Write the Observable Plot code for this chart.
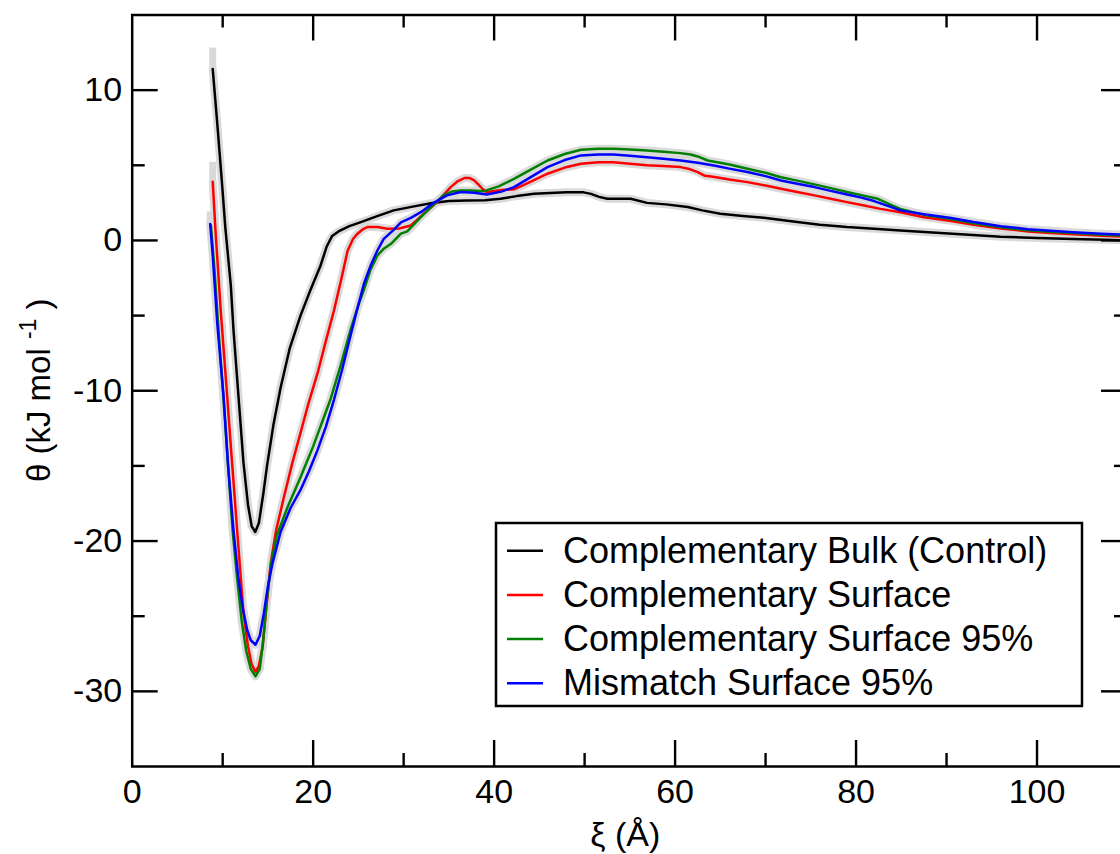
<!DOCTYPE html>
<html>
<head>
<meta charset="utf-8">
<script src="https://cdn.jsdelivr.net/npm/d3@7"></script>
<script src="https://cdn.jsdelivr.net/npm/@observablehq/plot@0.6"></script>
<style>
  html, body { margin: 0; padding: 0; background: white; overflow: hidden; }
  #wrap { width: 1120px; height: 854px; overflow: hidden; }
  #wrap svg { max-width: none !important; }
</style>
</head>
<body>
<div id="wrap"></div>
<script>
// ---------------- data ----------------
const seriesNames = [
  "Complementary Bulk (Control)",
  "Complementary Surface",
  "Complementary Surface 95%",
  "Mismatch Surface 95%"
];
const seriesColors = ["#000000", "#ff0000", "#008000", "#0000ff"];

const bulk = [[8.9,11.4],[9.4,7.8],[9.9,4.0],[10.3,0.8],[10.9,-3.0],[11.2,-6.0],[11.8,-10.8],[12.3,-14.8],[12.8,-17.6],[13.2,-19.0],[13.6,-19.4],[14.0,-18.8],[14.5,-16.8],[14.9,-15.0],[15.6,-12.3],[16.4,-9.8],[17.4,-7.2],[18.6,-5.0],[19.7,-3.3],[20.8,-1.7],[21.5,-0.4],[22.1,0.3],[22.8,0.6],[24,0.95],[25.2,1.2],[27,1.6],[28.9,2.0],[31,2.25],[33,2.48],[35,2.62],[37,2.66],[39,2.68],[40.7,2.77],[42.5,2.95],[44.4,3.1],[46.2,3.15],[48,3.2],[49.9,3.2],[50.7,3.1],[51.6,2.9],[52.5,2.77],[55.1,2.77],[56.9,2.5],[59,2.4],[61.4,2.22],[63,2.0],[65,1.77],[67.5,1.62],[69.8,1.51],[73.5,1.22],[76,1.05],[79,0.89],[82,0.78],[84.9,0.67],[88,0.55],[92,0.4],[96,0.25],[100,0.17],[104,0.1],[107.5,0.05],[110,0.0]];

const surface = [[8.9,3.9],[9.2,0.7],[9.8,-4.8],[10.5,-10.4],[11.0,-14.5],[11.6,-19.3],[12.3,-24.8],[12.8,-27.0],[13.2,-28.2],[13.63,-28.7],[14.0,-28.3],[14.4,-27.1],[14.8,-24.6],[15.3,-21.5],[15.9,-19.3],[16.8,-17.0],[17.7,-14.8],[18.6,-12.8],[19.5,-10.8],[20.5,-8.8],[21.4,-6.7],[22.3,-4.66],[23.1,-2.6],[23.8,-0.7],[24.4,0.1],[24.9,0.45],[25.5,0.75],[26.0,0.89],[27.1,0.89],[28.2,0.78],[29.5,0.8],[30.8,1.0],[32.2,1.77],[33.7,2.55],[35.2,3.55],[36.0,3.95],[36.7,4.15],[37.3,4.15],[37.8,4.0],[38.3,3.7],[38.7,3.44],[39.2,3.2],[39.6,3.25],[40.8,3.35],[42.2,3.4],[44,3.9],[45.9,4.44],[47.8,4.85],[49.6,5.1],[51.5,5.2],[53.2,5.2],[55,5.1],[56.9,5.0],[58.7,4.95],[60.6,4.88],[61.6,4.75],[62.5,4.55],[63.3,4.3],[64.0,4.26],[66,4.05],[68,3.88],[70,3.65],[71.7,3.44],[73.5,3.22],[75.4,3.0],[77.2,2.78],[79,2.55],[80.9,2.32],[82.7,2.1],[84.9,1.88],[87.5,1.55],[90.5,1.3],[93,1.05],[96,0.8],[99,0.6],[101.5,0.5],[104,0.42],[107.1,0.32],[110,0.25]];

const surface95 = [[8.7,1.0],[9.1,-2.0],[9.6,-6.5],[10.1,-10.6],[10.6,-15.0],[11.1,-19.3],[11.6,-22.5],[12.1,-25.3],[12.6,-27.3],[13.1,-28.5],[13.63,-29.0],[14.1,-28.5],[14.5,-26.5],[14.9,-23.8],[15.4,-21.3],[16.0,-19.6],[17.2,-17.7],[18.5,-15.9],[20,-13.7],[21.9,-10.6],[23.0,-8.4],[24.2,-5.8],[25.0,-4.3],[25.6,-3.3],[26.3,-2.0],[27.1,-1.0],[27.8,-0.55],[28.6,-0.22],[29.7,0.45],[30.4,0.6],[31.9,1.55],[33.0,2.2],[34.4,3.0],[35.3,3.25],[36.3,3.33],[37.5,3.32],[38.9,3.28],[40.5,3.6],[42.2,4.1],[44,4.7],[45.9,5.32],[47.8,5.75],[49.6,6.03],[51.5,6.1],[53.2,6.1],[55,6.05],[56.9,5.99],[58.7,5.9],[60.6,5.81],[61.7,5.72],[62.5,5.59],[63.6,5.32],[66,5.05],[68,4.77],[70,4.5],[71.7,4.21],[73.5,3.98],[75.4,3.73],[77.2,3.48],[79,3.22],[80.7,3.0],[82.4,2.77],[83.2,2.55],[84.1,2.3],[84.9,2.1],[87.5,1.7],[90.5,1.42],[93,1.15],[96,0.88],[99,0.68],[101.5,0.58],[104,0.5],[107.1,0.38],[110,0.3]];

const mismatch95 = [[8.62,1.1],[8.9,-1.0],[9.4,-5.5],[10.1,-10.4],[10.6,-15.0],[11.2,-19.3],[11.7,-22.3],[12.2,-24.4],[12.7,-25.9],[13.1,-26.6],[13.63,-26.9],[14.1,-26.3],[14.55,-24.8],[15.0,-23.0],[15.5,-21.5],[16.4,-19.4],[17.5,-17.8],[18.6,-16.6],[19.5,-15.4],[20.45,-14.0],[21.4,-12.4],[22.3,-10.6],[23.2,-8.6],[24.1,-6.4],[24.9,-4.5],[25.6,-2.9],[26.4,-1.6],[27.1,-0.67],[27.8,0.1],[28.9,0.7],[29.7,1.2],[30.8,1.5],[31.9,1.88],[33.3,2.5],[34.8,3.0],[36.3,3.22],[37.8,3.18],[39.2,3.06],[40.8,3.25],[42.2,3.55],[44,4.2],[45.9,4.88],[47.8,5.35],[49.6,5.66],[51.5,5.72],[53.2,5.72],[55,5.63],[56.9,5.54],[58.7,5.44],[60.6,5.32],[62.5,5.17],[64.3,4.99],[66,4.78],[68,4.55],[70,4.28],[71.7,3.99],[73.5,3.77],[75.4,3.55],[77.2,3.3],[79,3.06],[80.6,2.85],[82,2.62],[83.5,2.3],[84.9,2.0],[87.5,1.75],[90.5,1.5],[93,1.23],[96,0.95],[99,0.75],[101.5,0.65],[104,0.55],[107.1,0.45],[110,0.38]];

// error at the first point of each series (grey bar above start)
const startErr = [1.4, 1.3, 0.8, 0.8];

const xLabelTicks = [0, 20, 40, 60, 80, 100];
const xMinorTicks = [10, 30, 50, 70, 90];
const xMajorTickMarks = [20, 40, 60, 80, 100];
const yLabelTicks = [-30, -20, -10, 0, 10];
const yMinorTicks = [-25, -15, -5, 5];

const xDomain = [0, 110];
const yDomain = [-35, 15];

const xLabel = "ξ (Å)";
const yLabelMain = "θ (kJ mol ";
const yLabelSup = "-1";
const yLabelEnd = ")";

// ---------------- build ----------------
const allSeries = [bulk, surface, surface95, mismatch95];
const rows = [];
allSeries.forEach((pts, i) => pts.forEach(([x, y]) => rows.push({x, y, s: seriesNames[i]})));
const starts = allSeries.map((pts, i) => ({x: pts[0][0], y1: pts[0][1], y2: pts[0][1] + startErr[i], s: seriesNames[i]}));

const W = 1130, H = 854;
const mL = 131.7, mR = 3, mT = 14.5, mB = 88;
const fw = W - mL - mR, fh = H - mT - mB;
const major = 26, minor = 13;
const tickStyle = {stroke: "black", strokeWidth: 2.4};

const marks = [
  Plot.axisX(xLabelTicks, {tickSize: 0, tickPadding: 12, tickFormat: d => String(d), label: null, fontSize: 34}),
  Plot.axisY(yLabelTicks, {tickSize: 0, tickPadding: 10, tickFormat: d => String(d), label: null, fontSize: 34}),
  // grey uncertainty bands
  Plot.ruleX(starts, {x: "x", y1: "y1", y2: "y2", stroke: "#d9d9d9", strokeWidth: 7}),
  Plot.line(rows, {x: "x", y: "y", z: "s", stroke: "#dadada", strokeWidth: 8, strokeLinejoin: "round", curve: "linear"}),
];
seriesNames.forEach((name, i) => {
  marks.push(Plot.line(rows.filter(r => r.s === name), {x: "x", y: "y", stroke: seriesColors[i], strokeWidth: 2.5, strokeLinejoin: "round"}));
});
// inward ticks on all four sides
marks.push(
  Plot.ruleX(xMajorTickMarks, {...tickStyle, insetTop: fh - major}),
  Plot.ruleX(xMinorTicks, {...tickStyle, insetTop: fh - minor}),
  Plot.ruleX(xMajorTickMarks, {...tickStyle, insetBottom: fh - major}),
  Plot.ruleX(xMinorTicks, {...tickStyle, insetBottom: fh - minor}),
  Plot.ruleY(yLabelTicks, {...tickStyle, insetRight: fw - major}),
  Plot.ruleY(yMinorTicks, {...tickStyle, insetRight: fw - minor}),
  Plot.ruleY(yLabelTicks, {...tickStyle, insetLeft: fw - major}),
  Plot.ruleY(yMinorTicks, {...tickStyle, insetLeft: fw - minor}),
  Plot.frame({stroke: "black", strokeWidth: 2.5})
);

const svg = Plot.plot({
  width: W, height: H,
  marginLeft: mL, marginRight: mR, marginTop: mT, marginBottom: mB,
  x: {domain: xDomain, label: null},
  y: {domain: yDomain, label: null},
  style: {fontFamily: "'Liberation Sans', Arial, sans-serif", fontSize: "34px", color: "black", background: "white", maxWidth: "none"},
  marks
});
svg.style.maxWidth = "none";
svg.setAttribute("width", W);

const s = d3.select(svg);
// axis titles
s.append("text")
  .attr("x", mL + fw / 2 - 4).attr("y", 846)
  .attr("text-anchor", "middle")
  .attr("font-size", 34).attr("fill", "black")
  .text(xLabel);
const yl = s.append("text")
  .attr("transform", `translate(50,${mT + fh / 2}) rotate(-90)`)
  .attr("text-anchor", "middle")
  .attr("font-size", 33).attr("fill", "black");
yl.append("tspan").text(yLabelMain);
yl.append("tspan").attr("font-size", 23).attr("dy", -14).text(yLabelSup);
yl.append("tspan").attr("dy", 14).text(" " + yLabelEnd);

// legend
const lg = s.append("g").attr("text-anchor", "start");
lg.append("rect").attr("x", 496).attr("y", 523).attr("width", 586).attr("height", 183)
  .attr("fill", "white").attr("stroke", "black").attr("stroke-width", 2.5);
seriesNames.forEach((name, i) => {
  const cy = 550.7 + i * 44.2;
  lg.append("line").attr("x1", 507).attr("x2", 543).attr("y1", cy).attr("y2", cy)
    .attr("stroke", seriesColors[i]).attr("stroke-width", 2.5);
  lg.append("text").attr("x", 563).attr("y", cy + 12).attr("text-anchor", "start")
    .attr("font-size", 36).attr("fill", "black").text(name);
});

document.getElementById("wrap").appendChild(svg);
</script>
</body>
</html>
